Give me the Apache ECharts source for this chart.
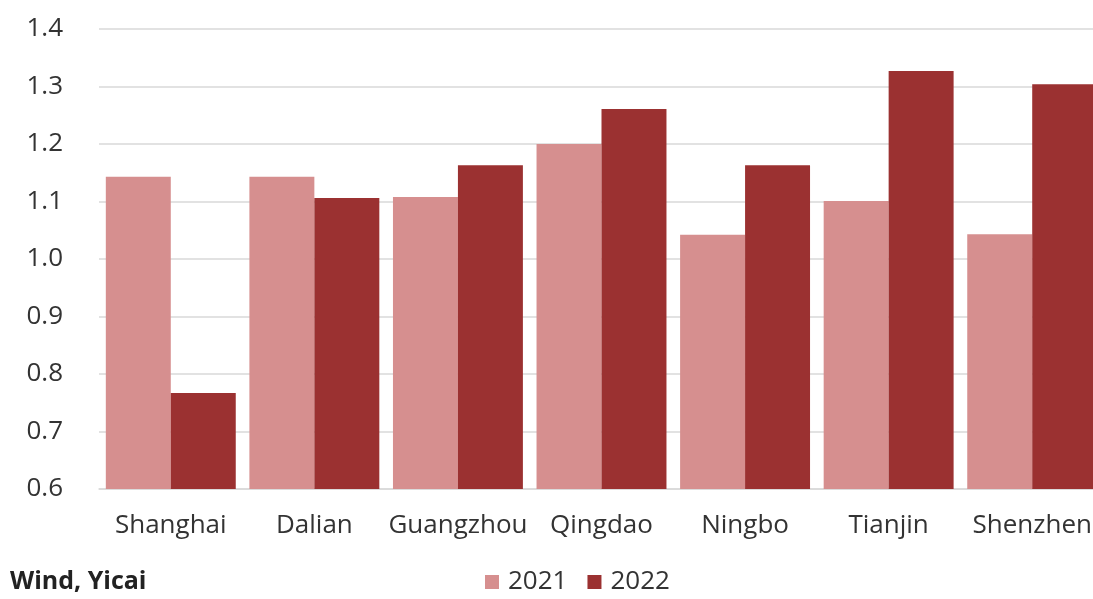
<!DOCTYPE html>
<html>
<head>
<meta charset="utf-8">
<script src="https://cdn.jsdelivr.net/npm/echarts@6/dist/echarts.min.js"></script>
<style>
html,body{margin:0;padding:0;background:#fff;overflow:hidden;}
#chart{width:1106px;height:599px;}
</style>
</head>
<body>
<div id="chart"></div>
<script>
const categories = ['Shanghai', 'Dalian', 'Guangzhou', 'Qingdao', 'Ningbo', 'Tianjin', 'Shenzhen'];
const values2021 = [1.143, 1.143, 1.108, 1.200, 1.042, 1.101, 1.043];
const values2022 = [0.767, 1.106, 1.163, 1.261, 1.163, 1.327, 1.304];
const seriesNames = ['2021', '2022'];
const sourceText = 'Wind, Yicai';

const chart = echarts.init(document.getElementById('chart'), null, {renderer: 'canvas'});
const font = "'Open Sans', 'Noto Sans', sans-serif";
chart.setOption({
  animation: false,
  backgroundColor: '#ffffff',
  textStyle: {fontFamily: font, color: '#333333'},
  grid: {left: 99, top: 29, width: 1005, height: 460},
  legend: {
    left: 480, top: 564,
    itemWidth: 14, itemHeight: 14, itemGap: 20,
    icon: 'rect',
    textStyle: {fontSize: 26, color: '#333333', fontFamily: font, padding: [0, 0, 0, 4]},
    data: seriesNames
  },
  graphic: [{
    type: 'text', left: 10, top: 569,
    style: {text: sourceText, fontSize: 25, fontWeight: 'bold', fill: '#222222', fontFamily: font}
  }],
  xAxis: {
    type: 'category',
    data: categories,
    axisLine: {show: true, lineStyle: {color: '#d9d9d9', width: 1.5}},
    axisTick: {show: false},
    axisLabel: {fontSize: 26, color: '#333333', margin: 24, fontFamily: font, interval: 0}
  },
  yAxis: {
    type: 'value',
    min: 0.6, max: 1.4, interval: 0.1,
    axisLine: {show: false},
    axisTick: {show: false},
    splitLine: {lineStyle: {color: '#d9d9d9', width: 1.5}},
    axisLabel: {fontSize: 26, color: '#333333', margin: 36, fontFamily: font,
      formatter: v => v.toFixed(1)}
  },
  series: [
    {name: seriesNames[0], type: 'bar', data: values2021, barGap: '0%', barCategoryGap: '9.5%',
     itemStyle: {color: '#d68f8f'}},
    {name: seriesNames[1], type: 'bar', data: values2022, barGap: '0%', barCategoryGap: '9.5%',
     itemStyle: {color: '#9b3131'}}
  ]
});
</script>
</body>
</html>
